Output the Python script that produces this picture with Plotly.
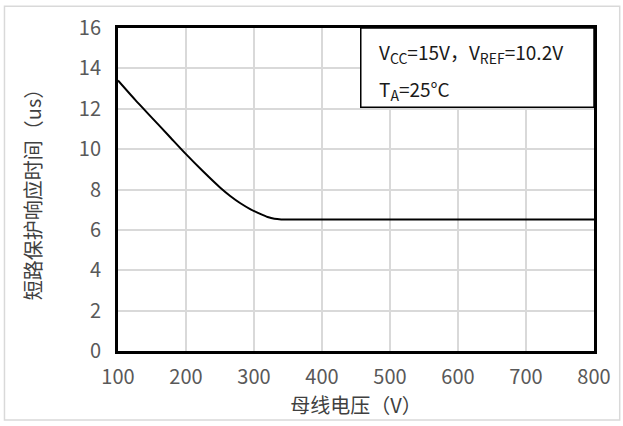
import plotly.graph_objects as go

# Data
bus_voltage = [100, 125, 150, 175, 200, 225, 250, 265, 280, 295, 310, 320, 330, 340, 400, 500, 600, 700, 800]
response_time = [13.4, 12.45, 11.55, 10.65, 9.75, 8.9, 8.1, 7.68, 7.32, 7.02, 6.78, 6.64, 6.55, 6.52, 6.52, 6.52, 6.52, 6.52, 6.52]

x_ticks = [100, 200, 300, 400, 500, 600, 700, 800]
y_ticks = [0, 2, 4, 6, 8, 10, 12, 14, 16]

FONT = "Noto Sans CJK SC"

fig = go.Figure()
fig.add_trace(go.Scatter(
    x=bus_voltage, y=response_time, mode="lines",
    line=dict(color="black", width=2, shape="spline", smoothing=0.6),
    showlegend=False, hoverinfo="skip",
))

SUB = "<span style='font-size:14px'>{}</span>"

fig.update_layout(
    width=623, height=426,
    margin=dict(l=118, r=27, t=27, b=72),
    paper_bgcolor="white", plot_bgcolor="white",
    font=dict(family=FONT, color="#595959", size=20),
    xaxis=dict(
        range=[100, 800], tickvals=x_ticks, ticktext=[str(v) for v in x_ticks],
        showgrid=True, gridcolor="#d9d9d9", gridwidth=2,
        showline=True, linecolor="black", linewidth=3, mirror=True,
        zeroline=False, ticks="", ticklabelstandoff=6,
        title=dict(text="母线电压（V）", font=dict(family=FONT, size=20, color="#404040"), standoff=10),
    ),
    yaxis=dict(
        range=[0, 16], tickvals=y_ticks, ticktext=[str(v) for v in y_ticks],
        showgrid=True, gridcolor="#d9d9d9", gridwidth=2,
        showline=True, linecolor="black", linewidth=3, mirror=True,
        zeroline=False, ticks="", ticklabelstandoff=10,
        title=dict(text="短路保护响应时间（us）", font=dict(family=FONT, size=20, color="#404040"), standoff=32),
    ),
    shapes=[
        # outer chart border
        dict(type="rect", xref="paper", yref="paper", x0=-0.2385, x1=1.054, y0=-0.214, y1=1.067,
             line=dict(color="#d9d9d9", width=1.5), fillcolor="rgba(0,0,0,0)", layer="below"),
        # condition box
        dict(type="rect", xref="paper", yref="paper", x0=0.51, x1=1.0, y0=0.755, y1=1.0,
             line=dict(color="black", width=1.5), fillcolor="white", layer="above"),
    ],
    annotations=[
        dict(xref="paper", yref="paper", x=0.544, y=0.923, xanchor="left", yanchor="middle",
             text="V<sub>" + SUB.format("CC") + "</sub>=15V，V<sub>" + SUB.format("REF") + "</sub>=10.2V",
             showarrow=False, font=dict(family=FONT, size=19, color="#1a1a1a")),
        dict(xref="paper", yref="paper", x=0.544, y=0.807, xanchor="left", yanchor="middle",
             text="T<sub>" + SUB.format("A") + "</sub>=25°C", showarrow=False,
             font=dict(family=FONT, size=19, color="#1a1a1a")),
    ],
)

fig.write_html("out.html", post_script="document.body.style.margin='0px';",
               config={"displayModeBar": False})
